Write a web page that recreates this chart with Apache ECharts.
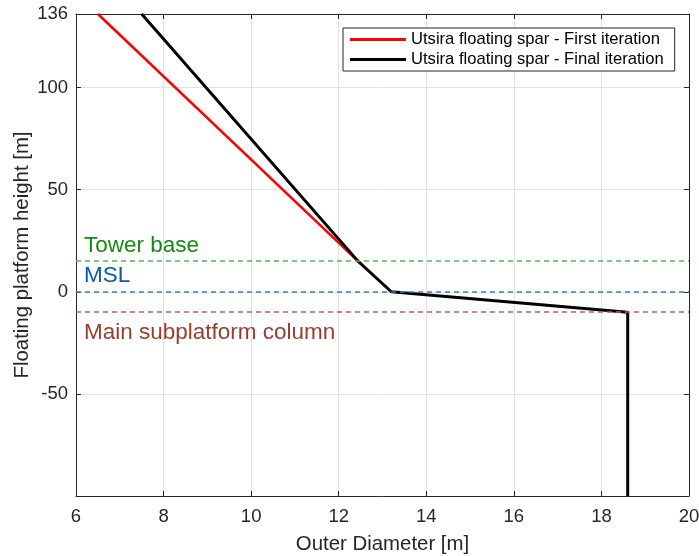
<!DOCTYPE html>
<html>
<head>
<meta charset="utf-8">
<script src="https://cdn.jsdelivr.net/npm/echarts@6/dist/echarts.min.js"></script>
<style>html,body{margin:0;padding:0;background:#fff}#c{width:699px;height:556px}</style>
</head>
<body>
<div id="c"></div>
<script>
const seriesNames = ['Utsira floating spar - First iteration', 'Utsira floating spar - Final iteration'];
const firstX = [6.5, 12.44];
const firstY = [136, 15];
const finalX = [7.5, 12.44, 13.2, 18.6, 18.6];
const finalY = [136, 15, 0, -10, -100];
const refNames = ['Tower base', 'MSL', 'Main subplatform column'];
const refLevels = [15, 0, -10];
const xTicks = [6, 8, 10, 12, 14, 16, 18, 20];
const yTickLabels = [-50, 0, 50, 100, 136];

const FONT = '"Liberation Sans", Arial, Helvetica, sans-serif';
const refLineColors = ['#5cb05c', '#3a7cbd', '#b0665c'];
const refTextColors = ['#138a13', '#0d5aa6', '#94402f'];
const refLabelPos = ['insideStartTop', 'insideStartTop', 'insideStartBottom'];
const refLabelDist = [[8, 4], [8, 4], [8, 9]];

const zip = (xs, ys) => xs.map((x, i) => [x, ys[i]]);

const chart = echarts.init(document.getElementById('c'), null, {renderer: 'canvas'});
const axisCommon = {
  axisLine: {show: true, onZero: false, lineStyle: {color: '#262626', width: 1}},
  axisTick: {show: true, inside: true, length: 5, lineStyle: {color: '#262626'}},
};
chart.setOption({
  animation: false,
  backgroundColor: '#fff',
  grid: {left: 76, right: 10, top: 14, bottom: 60, show: false, containLabel: false, outerBoundsMode: 'none'},
  legend: {
    orient: 'vertical',
    left: 343, top: 28,
    padding: [3, 11, 3, 7],
    itemGap: 3,
    itemWidth: 56,
    itemHeight: 14,
    borderColor: '#262626', borderWidth: 1,
    borderRadius: 0,
    backgroundColor: '#fff',
    textStyle: {fontFamily: FONT, fontSize: 16.6, color: '#000'},
    data: seriesNames.map(n => ({name: n, icon: 'path://M0,0 L56,0 L56,3 L0,3 Z'}))
  },
  xAxis: [{
    type: 'value', min: xTicks[0], max: xTicks[xTicks.length - 1], interval: 2,
    position: 'bottom',
    name: 'Outer Diameter [m]', nameLocation: 'middle', nameGap: 38,
    nameTextStyle: {fontFamily: FONT, fontSize: 20.4, color: '#262626'},
    ...axisCommon,
    axisLabel: {fontFamily: FONT, fontSize: 18.5, color: '#262626', margin: 11},
    splitLine: {show: true, lineStyle: {color: '#e3e3e3', width: 1}}
  }, {
    type: 'value', min: xTicks[0], max: xTicks[xTicks.length - 1], interval: 2,
    position: 'top', ...axisCommon, axisLabel: {show: false}, splitLine: {show: false}
  }],
  yAxis: [{
    type: 'value', min: -100, max: 136, interval: 50,
    position: 'left',
    name: 'Floating platform height [m]', nameLocation: 'middle', nameGap: 44,
    nameMoveOverlap: false,
    nameTextStyle: {fontFamily: FONT, fontSize: 20.4, color: '#262626'},
    ...axisCommon,
    axisLabel: {
      fontFamily: FONT, fontSize: 18.5, color: '#262626', margin: 8,
      showMaxLabel: true,
      formatter: v => (yTickLabels.indexOf(Math.round(v)) >= 0 ? String(Math.round(v)) : '')
    },
    splitLine: {show: true, lineStyle: {color: '#e3e3e3', width: 1}}
  }, {
    type: 'value', min: -100, max: 136, interval: 50,
    position: 'right', ...axisCommon, axisLabel: {show: false}, splitLine: {show: false}
  }],
  series: [
    {
      name: 'refs', type: 'line', data: [], silent: true,
      markLine: {
        symbol: 'none', silent: true,
        data: refLevels.map((v, i) => ({
          yAxis: v,
          lineStyle: {color: refLineColors[i], type: [5, 4], width: 1.5, opacity: 1},
          label: {
            show: true, position: refLabelPos[i], formatter: refNames[i],
            fontFamily: FONT, fontSize: 22.5, color: refTextColors[i],
            distance: refLabelDist[i]
          }
        }))
      }
    },
    {
      name: seriesNames[0], type: 'line', data: zip(firstX, firstY),
      symbol: 'none', lineStyle: {color: '#ff0000', width: 2.5}, itemStyle: {color: '#ff0000'}, z: 3
    },
    {
      name: seriesNames[1], type: 'line', data: zip(finalX, finalY),
      symbol: 'none', lineStyle: {color: '#000000', width: 3}, itemStyle: {color: '#000000'}, z: 4
    }
  ]
});
</script>
</body>
</html>
